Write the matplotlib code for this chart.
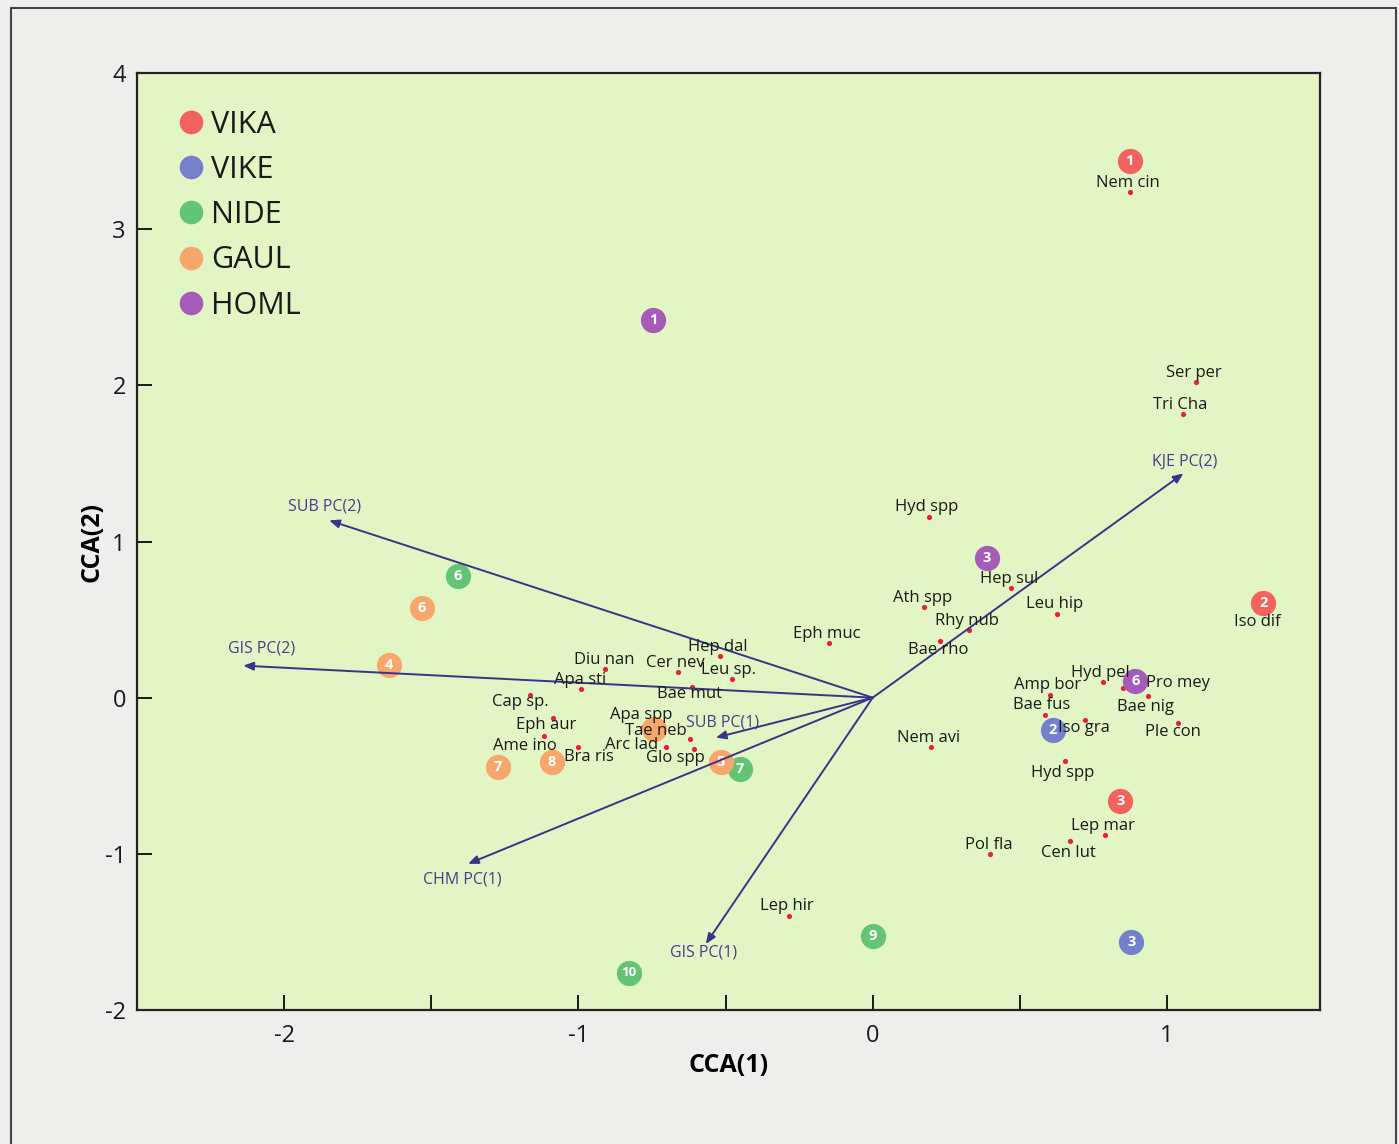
import numpy as np
import matplotlib
matplotlib.use('Agg')
import matplotlib.pyplot as plt
from matplotlib.lines import Line2D
from matplotlib.patches import Rectangle

plt.rcParams['font.family'] = ['Open Sans', 'DejaVu Sans']
plt.rcParams['axes.unicode_minus'] = False

# sites (group, number, CCA1, CCA2)
site_group = ['VIKA', 'VIKA', 'VIKA', 'VIKE', 'VIKE',
              'NIDE', 'NIDE', 'NIDE', 'NIDE',
              'GAUL', 'GAUL', 'GAUL', 'GAUL', 'GAUL', 'GAUL',
              'HOML', 'HOML', 'HOML']
site_num = ['1', '2', '3', '2', '3',
            '6', '7', '9', '10',
            '4', '6', '7', '8', '5', '',
            '1', '3', '6']
site_x = [0.873, 1.328, 0.842, 0.611, 0.879,
          -1.409, -0.452, 0.000, -0.829,
          -1.643, -1.531, -1.273, -1.090, -0.516, -0.744,
          -0.747, 0.387, 0.893]
site_y = [3.436, 0.609, -0.660, -0.205, -1.564,
          0.782, -0.455, -1.526, -1.763,
          0.212, 0.571, -0.442, -0.410, -0.410, -0.199,
          2.417, 0.897, 0.109]

groups = ['VIKA', 'VIKE', 'NIDE', 'GAUL', 'HOML']
group_colors = ['#f2625e', '#7480cc', '#62c474', '#f7a66c', '#a45cb8']

# species scores
sp_names = ['Nem cin', 'Ser per', 'Tri Cha', 'Hyd spp', 'Hep sul', 'Ath spp',
            'Leu hip', 'Rhy nub', 'Bae rho', 'Eph muc', 'Hyd pel', 'Pro mey',
            'Bae nig', 'Amp bor', 'Bae fus', 'Iso gra', 'Ple con', 'Nem avi',
            'Hyd spp', 'Iso dif', 'Lep mar', 'Cen lut', 'Pol fla', 'Lep hir',
            'Hep dal', 'Diu nan', 'Cer nev', 'Leu sp.', 'Apa sti', 'Bae mut',
            'Cap sp.', 'Eph aur', 'Ame ino', 'Bra ris', 'Apa spp', 'Tae neb',
            'Arc lad', 'Glo spp']
sp_x = [0.873, 1.100, 1.056, 0.190, 0.469, 0.173,
        0.625, 0.326, 0.228, -0.149, 0.781, 0.852,
        0.937, 0.601, 0.584, 0.723, 1.036, 0.197,
        0.655, 1.324, 0.788, 0.672, 0.397, -0.285,
        -0.520, -0.910, -0.662, -0.479, -0.992, -0.615,
        -1.165, -1.087, -1.117, -1.002, -0.781, -0.621,
        -0.703, -0.608]
sp_y = [3.237, 2.019, 1.814, 1.160, 0.705, 0.583,
        0.538, 0.436, 0.365, 0.353, 0.103, 0.064,
        0.013, 0.019, -0.109, -0.141, -0.160, -0.314,
        -0.404, 0.571, -0.878, -0.917, -1.000, -1.397,
        0.269, 0.186, 0.167, 0.122, 0.058, 0.071,
        0.019, -0.128, -0.244, -0.314, -0.186, -0.263,
        -0.314, -0.327]
# label offsets (points)
sp_off = [(-1.4, 6.5), (-2, 6.5), (-2, 7), (-1.4, 6.5), (-1.4, 6.5), (-0.7, 6.5),
          (-1.4, 7), (-1.4, 6.5), (-1.4, -6.5), (-1.4, 6.5), (-1.4, 6.5), (39, 3.6),
          (-2, -8), (-1.4, 7), (-2, 7), (-1.4, -5.8), (-3, -6.5), (-1.4, 6.5),
          (-2, -8.6), (-3.6, -9.4), (-1.4, 6.5), (-1.4, -8.6), (-0.7, 6.5), (-1.4, 7),
          (-1.4, 6.5), (-0.7, 6.5), (-2, 6.5), (-2, 6.5), (-0.7, 6.5), (-1.4, -5),
          (-7, -5), (-5, -5), (-13.7, -7.2), (8, -7.2), (-1.4, 8.5), (-24.5, 5.5),
          (-24.5, 1.0), (-13, -6.5)]

# environmental vectors
env_names = ['KJE PC(2)', 'SUB PC(2)', 'GIS PC(2)', 'SUB PC(1)', 'CHM PC(1)', 'GIS PC(1)']
env_x = [1.056, -1.847, -2.139, -0.533, -1.375, -0.567]
env_y = [1.436, 1.135, 0.205, -0.256, -1.064, -1.577]
env_off = [(0.7, 8), (-3.6, 10), (13, 12), (5, 10.8), (-4.3, -11.5), (-1.4, -6.5)]

fig = plt.figure(figsize=(13.99, 11.44), dpi=100)
fig.patch.set_facecolor('#eeeeec')
fig.patches.append(Rectangle((11 / 1399, -0.02), 1385 / 1399, 1.02 - 8 / 1144,
                             transform=fig.transFigure, fill=False,
                             edgecolor='#444444', lw=1.5))
ax = fig.add_axes([137 / 1399, 1 - 1010 / 1144, 1183 / 1399, 937 / 1144])
ax.set_facecolor('#e1f6c4')

ax.set_xlim(-2.5, 1.52)
ax.set_ylim(-2, 4)

# vectors
for name, x, y, off in zip(env_names, env_x, env_y, env_off):
    ax.annotate('', xy=(x, y), xytext=(0, 0),
                arrowprops=dict(arrowstyle='-|>,head_length=0.6,head_width=0.25',
                                color='#3a3488', lw=1.4, shrinkA=0, shrinkB=0),
                zorder=4)
    ax.annotate(name, xy=(x, y), xytext=off, textcoords='offset points',
                ha='center', va='center', fontsize=11.5, color='#4a3c8c', zorder=6)

# species
ax.scatter(sp_x, sp_y, s=14, color='#e8203a', zorder=3, linewidths=0)
for name, x, y, off in zip(sp_names, sp_x, sp_y, sp_off):
    ax.annotate(name, xy=(x, y), xytext=off, textcoords='offset points',
                ha='center', va='center', fontsize=12, color='#1a1a1a', zorder=6)

# sites
cmap = dict(zip(groups, group_colors))
for g, n, x, y in zip(site_group, site_num, site_x, site_y):
    ax.scatter([x], [y], s=330, color=cmap[g], zorder=3.5, linewidths=0)
    if n:
        ax.text(x, y, n, ha='center', va='center', fontsize=10.5 if len(n) == 1 else 9.5,
                fontweight='bold', color='white', zorder=3.6)

# legend
handles = [Line2D([], [], marker='o', ls='', markersize=17, markerfacecolor=c,
                  markeredgewidth=0) for c in group_colors]
leg = ax.legend(handles, groups, loc='upper left', bbox_to_anchor=(0.02, 0.974),
                frameon=False, fontsize=22, handletextpad=0.05, labelspacing=0.5,
                handlelength=1.2, borderaxespad=0)
for t in leg.get_texts():
    t.set_color('#1a1a1a')

ax.set_xticks([-2, -1.5, -1, -0.5, 0, 0.5, 1])
ax.set_xticklabels(['-2', '', '-1', '', '0', '', '1'])
ax.set_yticks([-2, -1, 0, 1, 2, 3, 4])
ax.tick_params(direction='in', length=11, width=1.4, labelsize=17, colors='#1a1a1a', pad=8)
ax.tick_params(axis='x', pad=10)
for s in ax.spines.values():
    s.set_linewidth(1.6)
    s.set_color('#222222')

ax.set_xlabel('CCA(1)', fontsize=18, fontweight='bold', labelpad=4)
ax.set_ylabel('CCA(2)', fontsize=18, fontweight='bold', labelpad=0)

fig.savefig('out.png', dpi=100, facecolor=fig.get_facecolor())
